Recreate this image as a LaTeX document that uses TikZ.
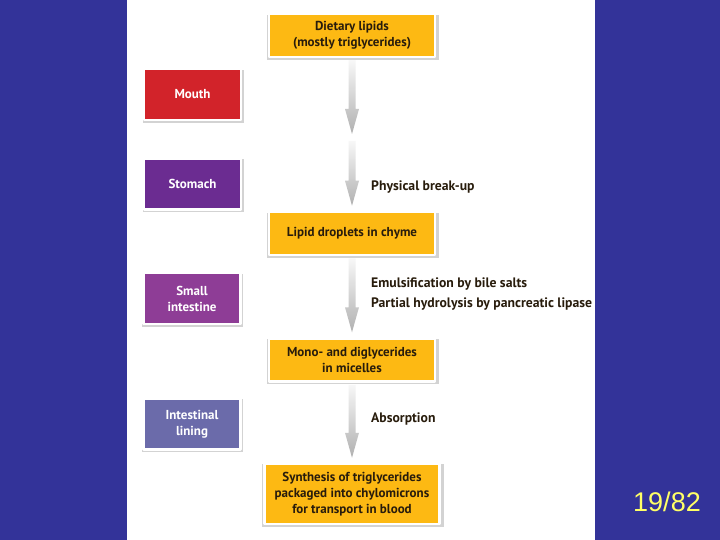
\documentclass[tikz,border=0pt]{standalone}
\usepackage{fontspec}
\setmainfont{PT Sans}
\setsansfont{Liberation Sans}
\usepackage{tikz}
\usepackage{xcolor}
\usetikzlibrary{shadows,calc}

\definecolor{fondo}{RGB}{51,51,153}
\definecolor{amarillo}{RGB}{253,185,19}
\definecolor{rojo}{RGB}{210,35,42}
\definecolor{morado}{RGB}{107,44,145}
\definecolor{lila}{RGB}{142,61,150}
\definecolor{violeta}{RGB}{107,107,170}
\definecolor{texto}{RGB}{40,28,12}
\definecolor{pagina}{RGB}{255,255,102}

\tikzset{
  caja/.style={draw=white, line width=2.5pt, align=center, inner sep=0pt,
    drop shadow={opacity=0.45, fill=gray!75, shadow scale=1.04,
      shadow xshift=0.8pt, shadow yshift=-1.6pt},
    font=\bfseries\fontsize{13}{16}\selectfont},
  paso/.style={caja, fill=amarillo, text=texto, minimum width=166pt, minimum height=43pt},
  organo/.style={caja, text=white, minimum width=97pt, minimum height=51pt},
  nota/.style={anchor=west, inner sep=0pt, text=texto,
    font=\bfseries\fontsize{13.7}{16}\selectfont}
}

% flecha gris degradada entre dos nodos
\newcommand\flecha[2]{%
  \shade[top color=gray!6, bottom color=gray!62]
    let \p1=(#1), \p2=(#2) in
    (\x1-3.5pt,\y1-2pt) -- (\x1+3.5pt,\y1-2pt) -- (\x1+3.5pt,\y2+30pt)
    -- (\x1+7pt,\y2+30pt) -- (\x1,\y2+5pt) -- (\x1-7pt,\y2+30pt)
    -- (\x1-3.5pt,\y2+30pt) -- cycle;}

\begin{document}
\begin{tikzpicture}[x=1pt, y=-1pt, line cap=round, line join=round]

% === FONDO ===
\useasboundingbox (0,0) rectangle (720,540);
\fill[fondo] (0,0) rectangle (720,540);
\fill[white] (127,0) rectangle (595,540);

% === PASOS (centro) ===
\node[paso] (dieta) at (352,35.5) {Dietary lipids\\(mostly triglycerides)};
\node[paso] (quimo) at (352,233.5) {Lipid droplets in chyme};
\node[paso] (micela) at (352,360) {Mono- and diglycerides\\in micelles};
\node[paso, minimum width=175pt, minimum height=60pt] (sintesis) at (352,494) {Synthesis of triglycerides\\packaged into chylomicrons\\for transport in blood};
\coordinate (boca) at (352,139);

% === ORGANOS (izquierda) ===
\node[organo, fill=rojo] (mouth) at (192.5,94.5) {Mouth};
\node[organo, fill=morado] (stomach) at (192.5,184) {Stomach};
\node[organo, fill=lila] (intestine) at (192,298.5) {Small\\intestine};
\node[organo, fill=violeta] (lining) at (192,424) {Intestinal\\lining};

% === FLECHAS ===
\flecha{dieta.south}{boca}
\flecha{boca}{quimo.north}
\flecha{quimo.south}{micela.north}
\flecha{micela.south}{sintesis.north}

% === NOTAS ===
\node[nota] (rotura) at (371,187) {Physical break-up};
\node[nota] (emulsion) at (371,284) {Emulsification by bile salts};
\node[nota] (hidrolisis) at (371,304) {Partial hydrolysis by pancreatic lipase};
\node[nota] (absorcion) at (371,419) {Absorption};

% Numero de pagina
\node[text=pagina, font=\sffamily\fontsize{27}{30}\selectfont] (num) at (667,502) {19/82};

\end{tikzpicture}
\end{document}
